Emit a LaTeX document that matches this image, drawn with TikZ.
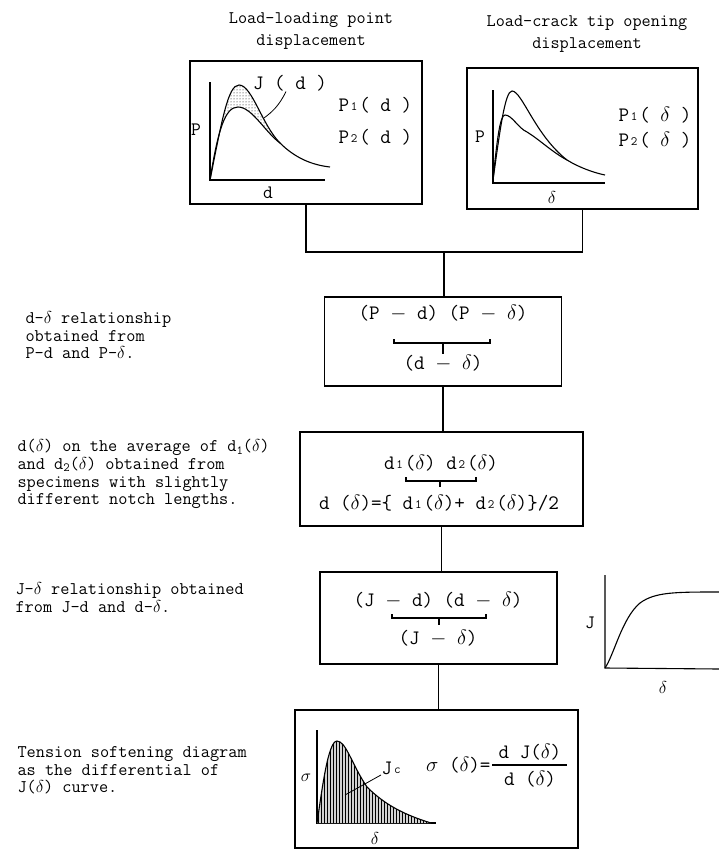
\documentclass[tikz,border=0pt]{standalone}
\usepackage{fontspec}
\usetikzlibrary{patterns}
\newcommand{\lo}[1]{\makebox[0.5em]{\raisebox{0.02em}{\scalebox{0.62}{#1}}}}
\newcommand{\dn}[1]{\raisebox{-0.3ex}{\scalebox{0.7}{#1}}}
\begin{document}
\begin{tikzpicture}[x=1pt,y=-1pt,line width=1.1pt,
  box/.style={draw,rectangle,inner sep=0pt},
  note/.style={font=\ttfamily\fontsize{17.8}{17.6}\selectfont,align=left,anchor=north west,inner sep=0pt},
  head/.style={font=\ttfamily\fontsize{17.7}{22}\selectfont,align=center,inner sep=0pt},
  eq/.style={font=\ttfamily\fontsize{20.5}{22}\selectfont,inner sep=0pt},
  lab/.style={font=\ttfamily\fontsize{19}{20}\selectfont,inner sep=0pt}]
\useasboundingbox (0,0) rectangle (719,852);
\node[head] (ldtitle) at (311,31) {Load-loading point\\displacement};
\node[head] (lctitle) at (587,34) {Load-crack tip opening\\displacement};
\node[box,minimum width=232pt,minimum height=143pt] (ldbox) at (306,132.5) {};
\node[box,minimum width=231pt,minimum height=141pt] (lcbox) at (582.5,138.5) {};
\node[box,minimum width=237pt,minimum height=89pt] (pdbox) at (443,341.5) {};
\node[box,minimum width=283pt,minimum height=94pt] (avgbox) at (441.5,479) {};
\node[box,minimum width=237pt,minimum height=92pt] (jbox) at (438.5,618) {};
\node[box,minimum width=283pt,minimum height=138pt] (tsbox) at (436.5,779) {};
\coordinate (merge) at (444,252);
\draw (ldbox.south) |- (merge) -| (lcbox.south);
\draw (merge) -- (merge |- pdbox.north);
\draw (pdbox.south) -- (pdbox.south |- avgbox.north);
\draw (avgbox.south) -- (avgbox.south |- jbox.north);
\draw (jbox.south) -- (jbox.south |- tsbox.north);
\draw (210,82) -- (210,180) -- (325,180);
\fill[pattern=dots] (210,180) .. controls (222,120) and (228,85) .. (239,85) .. controls (252,85) and (262,125) .. (280,143) .. controls (265,132) and (252,107) .. (238,107) .. controls (225,107) and (218,130) .. (210,180);
\draw (210,180) .. controls (222,120) and (228,85) .. (239,85) .. controls (252,85) and (262,125) .. (280,143) .. controls (295,158) and (312,165) .. (330,167);
\draw (210,180) .. controls (218,130) and (225,107) .. (238,107) .. controls (252,107) and (265,132) .. (280,143);
\node[eq] (jdlab) at (290,83) {J ( d )};
\draw[line width=0.8pt] ([xshift=-4pt]jdlab.south) .. controls (279,106) and (272,112) .. (264,118);
\node[lab] (ldp) at (196,130) {P};
\node[lab] (ldd) at (268,193) {d};
\node[eq,anchor=west] (ldpa) at (338,105) {P\lo{1}( d )};
\node[eq,anchor=west] (ldpb) at (338,137) {P\lo{2}( d )};
\draw (493,90) -- (493,183) -- (605,183);
\draw (493,180) .. controls (500,130) and (505,91) .. (512,91) .. controls (522,91) and (535,135) .. (567,160) .. controls (580,168) and (595,173) .. (605,175);
\draw (493,180) .. controls (497,140) and (500,115) .. (505,115) .. controls (512,115) and (518,128) .. (527,132) .. controls (540,140) and (552,152) .. (567,160);
\node[lab] (lcp) at (480,137) {P};
\node[lab] (lcd) at (552,197) {\(\delta\)};
\node[eq,anchor=west] (lcpa) at (618,115) {P\lo{1}( \(\delta\) )};
\node[eq,anchor=west] (lcpb) at (618,140) {P\lo{2}( \(\delta\) )};
\node[eq] (pdtop) at (443,313) {(P \(-\) d) (P \(-\) \(\delta\))};
\node[eq] (pdbot) at (443,363) {(d \(-\) \(\delta\))};
\draw (394,339) |- (490,343) -- (490,339);
\draw (443,343) -- (pdbot.north);
\node[eq] (avgtop) at (441,463) {d\lo{1}(\(\delta\)) d\lo{2}(\(\delta\))};
\node[eq] (avgbot) at (439,503) {d (\(\delta\))=\{ d\lo{1}(\(\delta\))+ d\lo{2}(\(\delta\))\}/2};
\draw (406,477) |- (476,481) -- (476,477);
\draw (440,481) -- (440,487);
\node[eq] (jtop) at (438,600) {(J \(-\) d) (d \(-\) \(\delta\))};
\node[eq] (jbot) at (438,638) {(J \(-\) \(\delta\))};
\draw (392,614) |- (486,618) -- (486,614);
\draw (439,618) -- (439,625);
\draw (605,575) -- (605,668) -- (719,669);
\draw (605,668) .. controls (614,655) and (622,618) .. (640,603) .. controls (655,592) and (675,592) .. (719,592);
\node[lab] (jj) at (590,623) {J};
\node[lab] (jd) at (663,687) {\(\delta\)};
\draw (317,730) -- (317,823) -- (436,823);
\fill[gray!35] (317,823) .. controls (322,790) and (328,741) .. (337,741) .. controls (346,741) and (352,765) .. (367,787) .. controls (385,805) and (405,815) .. (431,823) -- cycle;
\fill[pattern=vertical lines] (317,823) .. controls (322,790) and (328,741) .. (337,741) .. controls (346,741) and (352,765) .. (367,787) .. controls (385,805) and (405,815) .. (431,823) -- cycle;
\draw (317,823) .. controls (322,790) and (328,741) .. (337,741) .. controls (346,741) and (352,765) .. (367,787) .. controls (385,805) and (405,815) .. (431,823);
\node[lab] (tss) at (306,778) {\(\sigma\)};
\node[lab] (tsd) at (375,838) {\(\delta\)};
\node[eq] (jclab) at (392,768) {J\lo{c}};
\draw[line width=0.8pt] (jclab.south west) -- (345,795);
\node[eq,anchor=east] (sigeq) at (491,765) {\(\sigma\) (\(\delta\))=};
\node[eq] (sigtop) at (530,752) {d J(\(\delta\))};
\node[eq] (sigbot) at (530,779) {d (\(\delta\))};
\draw (492,765) -- (567,765);
\node[note] (pdnote) at (25,311) {d-\(\delta\) relationship\\obtained from\\P-d and P-\(\delta\).};
\node[note] (avgnote) at (17,439) {d(\(\delta\)) on the average of d\dn{1}(\(\delta\))\\and d\dn{2}(\(\delta\)) obtained from\\specimens with slightly\\different notch lengths.};
\node[note] (jnote) at (15,582) {J-\(\delta\) relationship obtained\\from J-d and d-\(\delta\).};
\node[note] (tsnote) at (17,746) {Tension softening diagram\\as the differential of\\J(\(\delta\)) curve.};
\end{tikzpicture}
\end{document}
